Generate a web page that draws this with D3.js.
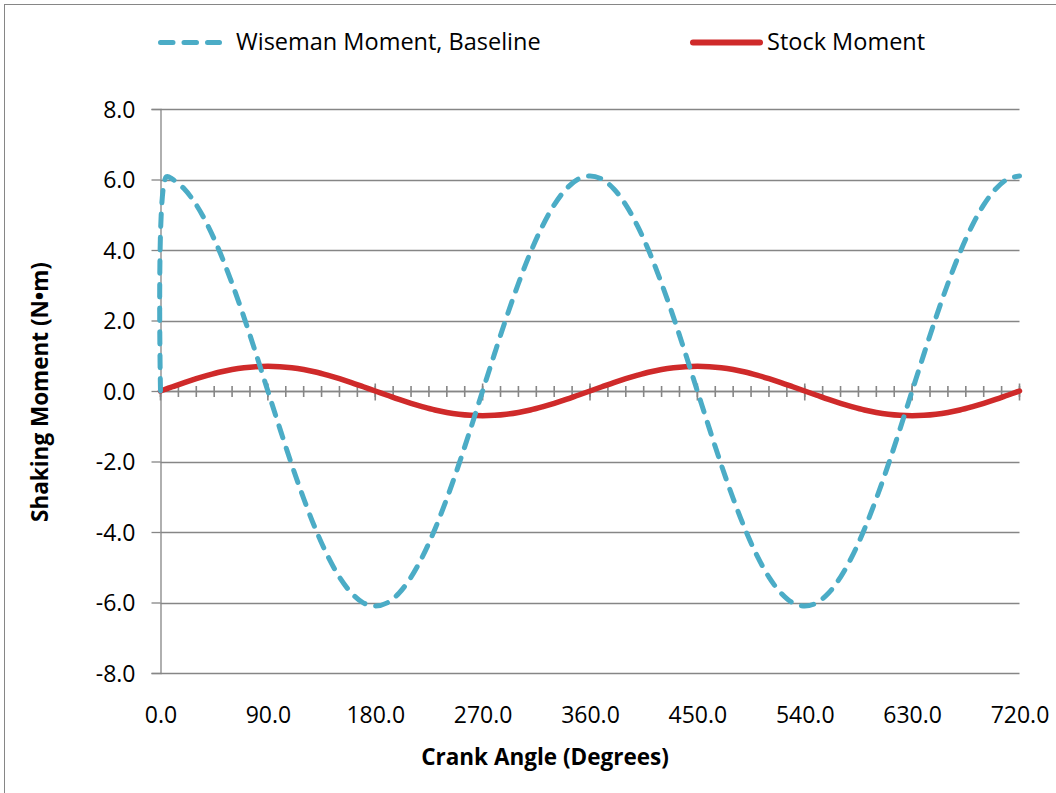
<!DOCTYPE html>
<html>
<head>
<meta charset="utf-8">
<script src="https://cdn.jsdelivr.net/npm/d3@7"></script>
<style>
  html, body { margin: 0; padding: 0; background: #fff; }
  svg { display: block; }
  text { font-family: "Open Sans", sans-serif; fill: #000; }
</style>
</head>
<body>
<svg id="chart" width="1056" height="793"></svg>
<script>
// ---- data ----
const angles = [0, 5, 10, 20, 30, 40, 50, 60, 70, 80, 90, 100, 110, 120, 130, 140, 150, 160, 170, 180,
  190, 200, 210, 220, 230, 240, 250, 260, 270, 280, 290, 300, 310, 320, 330, 340, 350, 360,
  370, 380, 390, 400, 410, 420, 430, 440, 450, 460, 470, 480, 490, 500, 510, 520, 530, 540,
  550, 560, 570, 580, 590, 600, 610, 620, 630, 640, 650, 660, 670, 680, 690, 700, 710, 720];

const wisemanMoment = [0, 6.08, 6.01, 5.73, 5.28, 4.67, 3.92, 3.05, 2.09, 1.06, 0, -1.06, -2.09, -3.05, -3.92, -4.67, -5.28, -5.73, -6.01, -6.10,
  -6.01, -5.73, -5.28, -4.67, -3.92, -3.05, -2.09, -1.06, 0, 1.06, 2.09, 3.05, 3.92, 4.67, 5.28, 5.73, 6.01, 6.10,
  6.01, 5.73, 5.28, 4.67, 3.92, 3.05, 2.09, 1.06, 0, -1.06, -2.09, -3.05, -3.92, -4.67, -5.28, -5.73, -6.01, -6.10,
  -6.01, -5.73, -5.28, -4.67, -3.92, -3.05, -2.09, -1.06, 0, 1.06, 2.09, 3.05, 3.92, 4.67, 5.28, 5.73, 6.01, 6.10];

const stockMoment = [0, 0.06, 0.12, 0.24, 0.35, 0.45, 0.54, 0.61, 0.66, 0.69, 0.70, 0.69, 0.66, 0.61, 0.54, 0.45, 0.35, 0.24, 0.12, 0,
  -0.12, -0.24, -0.35, -0.45, -0.54, -0.61, -0.66, -0.69, -0.70, -0.69, -0.66, -0.61, -0.54, -0.45, -0.35, -0.24, -0.12, 0,
  0.12, 0.24, 0.35, 0.45, 0.54, 0.61, 0.66, 0.69, 0.70, 0.69, 0.66, 0.61, 0.54, 0.45, 0.35, 0.24, 0.12, 0,
  -0.12, -0.24, -0.35, -0.45, -0.54, -0.61, -0.66, -0.69, -0.70, -0.69, -0.66, -0.61, -0.54, -0.45, -0.35, -0.24, -0.12, 0];

const xTicks = [0, 90, 180, 270, 360, 450, 540, 630, 720];
const xMinorTicks = [0, 15, 30, 45, 60, 75, 90, 105, 120, 135, 150, 165, 180, 195, 210, 225, 240, 255, 270, 285, 300, 315, 330, 345, 360,
  375, 390, 405, 420, 435, 450, 465, 480, 495, 510, 525, 540, 555, 570, 585, 600, 615, 630, 645, 660, 675, 690, 705, 720];
const yTicks = [-8, -6, -4, -2, 0, 2, 4, 6, 8];

const seriesNames = ["Wiseman Moment, Baseline", "Stock Moment"];
const xTitle = "Crank Angle (Degrees)";
const yTitle = "Shaking Moment (N\u2022m)";

// ---- drawing ----
const gray = "#868686";
const blue = "#4bacc6";
const red = "#cf2a2a";
const svg = d3.select("#chart");
const fmt = d => d3.format(".1f")(d).replace("\u2212", "-");

// outer frame (extends beyond the visible picture on right/bottom)
svg.append("rect").attr("x", 4.5).attr("y", 4.5).attr("width", 1200).attr("height", 1000)
  .attr("fill", "none").attr("stroke", gray).attr("stroke-width", 1);

const x = d3.scaleLinear().domain([0, 720]).range([160.5, 1019.5]);
const y = d3.scaleLinear().domain([-8, 8]).range([673, 109]);

// horizontal gridlines
svg.append("g").selectAll("line").data(yTicks).join("line")
  .attr("x1", x(0)).attr("x2", x(720))
  .attr("y1", d => Math.round(y(d)) + 0.5).attr("y2", d => Math.round(y(d)) + 0.5)
  .attr("stroke", gray).attr("stroke-width", 1.3);

// y axis
const yAxis = d3.axisLeft(y).tickValues(yTicks).tickFormat(fmt).tickSize(9).tickPadding(16);
const gy = svg.append("g").attr("transform", `translate(${x(0)},0)`).call(yAxis);
gy.select(".domain").attr("stroke", gray).attr("stroke-width", 1.3);
gy.selectAll(".tick line").attr("stroke", gray).attr("stroke-width", 1.3);
gy.selectAll(".tick text").attr("font-size", 23).attr("font-family", "Open Sans").attr("fill", "#000").attr("dy", "0.36em");

// x axis at zero: minor and major crossing ticks
const zeroY = Math.round(y(0)) + 0.5;
svg.append("line").attr("x1", x(0)).attr("x2", x(720)).attr("y1", zeroY).attr("y2", zeroY)
  .attr("stroke", gray).attr("stroke-width", 1.6);
svg.append("g").selectAll("line").data(xMinorTicks).join("line")
  .attr("x1", d => x(d)).attr("x2", d => x(d))
  .attr("y1", zeroY - 5.5).attr("y2", zeroY + 5.5)
  .attr("stroke", gray).attr("stroke-width", 1.6);
svg.append("g").selectAll("line").data(xTicks).join("line")
  .attr("x1", d => x(d)).attr("x2", d => x(d))
  .attr("y1", zeroY - 8).attr("y2", zeroY + 9)
  .attr("stroke", gray).attr("stroke-width", 1.6);

// x tick labels at the bottom of plot area (via axis generator)
const xAxis = d3.axisBottom(x).tickValues(xTicks).tickFormat(fmt).tickSize(0).tickPadding(0);
const gx = svg.append("g").attr("transform", `translate(0,${y(-8)})`).call(xAxis);
gx.select(".domain").remove();
gx.selectAll(".tick text").attr("font-size", 23).attr("font-family", "Open Sans").attr("fill", "#000")
  .attr("dy", null).attr("y", 50);

// lines
const pts = (vals) => angles.map((a, i) => [a, vals[i]]);
const line = d3.line().x(d => x(d[0])).y(d => y(d[1])).curve(d3.curveCatmullRom.alpha(0.5));

svg.append("path").datum(pts(stockMoment)).attr("d", line)
  .attr("fill", "none").attr("stroke", red).attr("stroke-width", 5.5).attr("stroke-linecap", "round");
svg.append("path").datum(pts(wisemanMoment)).attr("d", line)
  .attr("fill", "none").attr("stroke", blue).attr("stroke-width", 5)
  .attr("stroke-dasharray", "12.5,11").attr("stroke-linecap", "round");

// legend
const lg = svg.append("g");
lg.append("line").attr("x1", 160.5).attr("x2", 219.5).attr("y1", 42.5).attr("y2", 42.5)
  .attr("stroke", blue).attr("stroke-width", 5).attr("stroke-dasharray", "12.5,11").attr("stroke-linecap", "round");
lg.append("text").attr("x", 236).attr("y", 50).attr("font-size", 23.5).text(seriesNames[0]);
lg.append("line").attr("x1", 693).attr("x2", 760).attr("y1", 42.5).attr("y2", 42.5)
  .attr("stroke", red).attr("stroke-width", 6).attr("stroke-linecap", "round");
lg.append("text").attr("x", 767).attr("y", 50).attr("font-size", 23.5).text(seriesNames[1]);

// axis titles
svg.append("text").attr("x", 545).attr("y", 765).attr("text-anchor", "middle")
  .attr("font-size", 22.5).attr("font-weight", "bold").text(xTitle);
svg.append("text").attr("transform", "translate(48,392) rotate(-90)").attr("text-anchor", "middle")
  .attr("font-size", 22.5).attr("font-weight", "bold").text(yTitle);
</script>
</body>
</html>
